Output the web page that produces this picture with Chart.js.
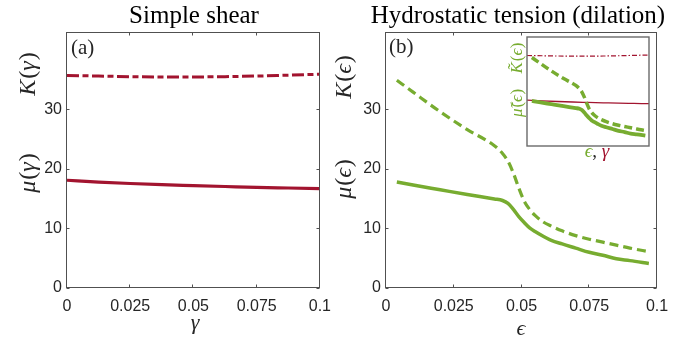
<!DOCTYPE html>
<html>
<head>
<meta charset="utf-8">
<script src="https://cdn.jsdelivr.net/npm/chart.js@4"></script>
<style>
  body { margin:0; background:#fff; width:685px; height:339px; position:relative; overflow:hidden; }
  canvas { position:absolute; }
</style>
</head>
<body>
<canvas id="c1" width="340" height="339" style="left:0;top:0;width:340px;height:339px"></canvas>
<canvas id="c2" width="355" height="339" style="left:330px;top:0;width:355px;height:339px"></canvas>
<canvas id="c3" width="126" height="113" style="left:525px;top:35px;width:126px;height:113px"></canvas>
<script>
// ---- data ----
const xTicks = [0, 0.025, 0.05, 0.075, 0.1];
const xTickLabels = ['0', '0.025', '0.05', '0.075', '0.1'];
const yTicks = [0, 10, 20, 30];
const yTickLabels = ['0', '10', '20', '30'];

// (a) simple shear
const gamma   = [0, 0.0125, 0.025, 0.0375, 0.05, 0.0625, 0.075, 0.0875, 0.1];
const muGamma = [18.1, 17.8, 17.55, 17.35, 17.2, 17.05, 16.9, 16.8, 16.7];
const kGamma  = [35.7, 35.6, 35.5, 35.45, 35.45, 35.5, 35.6, 35.75, 35.9];

// (b) hydrostatic tension
const epsilon = [0.004, 0.01, 0.02, 0.03, 0.04, 0.043, 0.045, 0.047, 0.049, 0.051, 0.053, 0.055, 0.058, 0.061, 0.065, 0.07, 0.075, 0.08, 0.085, 0.09, 0.097];
const muEps   = [17.8, 17.3, 16.5, 15.7, 14.95, 14.7, 14.2, 13.2, 12.0, 11.0, 10.1, 9.5, 8.7, 8.0, 7.4, 6.7, 6.0, 5.5, 4.9, 4.6, 4.1];
const kEps    = [34.9, 32.9, 29.6, 26.6, 23.9, 22.6, 21.3, 19.3, 16.8, 14.6, 13.2, 12.2, 11.1, 10.4, 9.6, 8.8, 8.2, 7.7, 7.2, 6.7, 6.1];

const RED = '#A2142F', GREEN = '#77AC30', AX = '#262626';
const SERIF = '"Liberation Serif", "DejaVu Serif", serif';
const SANS = '"Liberation Sans", Arial, sans-serif';

function pts(xs, ys) { return xs.map((x, i) => ({ x: x, y: ys[i] })); }

// mixed italic/upright text runs
function runs(ctx, cx, cy, rot, parts, size, color, off) {
  ctx.save();
  ctx.translate(cx, cy);
  if (rot) ctx.rotate(-Math.PI / 2);
  ctx.textBaseline = 'alphabetic';
  let w = 0;
  parts.forEach(p => {
    ctx.font = (p.i ? 'italic ' : '') + size + 'px ' + SERIF;
    p.w = ctx.measureText(p.t).width + (p.s || 0); w += p.w;
  });
  let x = -w / 2;
  parts.forEach(p => {
    ctx.font = (p.i ? 'italic ' : '') + size + 'px ' + SERIF;
    ctx.fillStyle = p.c || color;
    ctx.fillText(p.t, x, off);
    x += p.w;
  });
  ctx.restore();
}

const framePlugin = {
  id: 'frameTicks',
  afterDatasetsDraw(chart) {
    const { ctx, chartArea: a } = chart;
    const xs = chart.scales.x, ys = chart.scales.y;
    ctx.save();
    ctx.strokeStyle = '#505050';
    ctx.lineWidth = 1;
    const L = Math.round(a.left) - 0.5, R = Math.round(a.right) - 0.5;
    const T = Math.round(a.top) + 0.5, B = Math.round(a.bottom) - 0.5;
    ctx.strokeRect(L, T, R - L, B - T);
    ctx.beginPath();
    xTicks.forEach(v => {
      const px = Math.round(xs.getPixelForValue(v)) - 0.5;
      ctx.moveTo(px, B); ctx.lineTo(px, B - 3);
      ctx.moveTo(px, T); ctx.lineTo(px, T + 3);
    });
    yTicks.forEach(v => {
      const py = Math.round(ys.getPixelForValue(v)) + 0.5;
      ctx.moveTo(L, py); ctx.lineTo(L + 3, py);
      ctx.moveTo(R, py); ctx.lineTo(R - 3, py);
    });
    ctx.stroke();
    ctx.restore();
  }
};

function mainOptions(yWidth, padRight) {
  return {
    responsive: false, animation: false, devicePixelRatio: 1,
    layout: { padding: { top: 32, right: padRight, left: 0, bottom: 0 } },
    plugins: { legend: { display: false }, tooltip: { enabled: false } },
    elements: { point: { radius: 0 }, line: { cubicInterpolationMode: 'monotone' } },
    scales: {
      x: {
        type: 'linear', min: 0, max: 0.1,
        grid: { display: false, drawTicks: false }, border: { display: false },
        afterBuildTicks: s => { s.ticks = xTicks.map(v => ({ value: v })); },
        afterFit: s => { s.height = 51; },
        ticks: { padding: 9, autoSkip: false, maxRotation: 0, color: AX,
                 font: { family: SANS, size: 16 }, callback: (v, i) => xTickLabels[i] }
      },
      y: {
        type: 'linear', min: 0, max: 43,
        grid: { display: false, drawTicks: false }, border: { display: false },
        afterBuildTicks: s => { s.ticks = yTicks.map(v => ({ value: v })); },
        afterFit: s => { s.width = yWidth; },
        ticks: { padding: 5, autoSkip: false, color: AX,
                 font: { family: SANS, size: 16 }, callback: (v, i) => yTickLabels[i] }
      }
    }
  };
}

// ---- chart (a) ----
new Chart(document.getElementById('c1'), {
  type: 'line',
  data: {
    datasets: [
      { data: pts(gamma, kGamma), borderColor: RED, borderWidth: 3, borderDash: [12, 3.5, 6, 3.5] },
      { data: pts(gamma, muGamma), borderColor: RED, borderWidth: 3.2 }
    ]
  },
  options: mainOptions(67, 17),
  plugins: [framePlugin, {
    id: 'textA',
    afterDraw(chart) {
      const ctx = chart.ctx;
      ctx.save();
      ctx.fillStyle = '#000';
      ctx.font = '25px ' + SERIF; ctx.textAlign = 'center'; ctx.textBaseline = 'alphabetic';
      ctx.fillText('Simple shear', 194, 23);
      ctx.textAlign = 'left'; ctx.font = '21px ' + SERIF;
      ctx.fillStyle = AX;
      ctx.fillText('(a)', 71, 54);
      ctx.restore();
      runs(ctx, 27, 74, true, [{ t: 'K', i: 1, s: 1 }, { t: '(' }, { t: 'γ', i: 1, s: 1 }, { t: ')' }], 24, AX, 7.5);
      runs(ctx, 27, 173, true, [{ t: 'μ', i: 1, s: 1 }, { t: '(' }, { t: 'γ', i: 1, s: 1 }, { t: ')' }], 24, AX, 7.5);
      runs(ctx, 195, 329, false, [{ t: 'γ', i: 1 }], 22, AX, 0);
    }
  }]
});

// ---- chart (b) ----
new Chart(document.getElementById('c2'), {
  type: 'line',
  data: {
    datasets: [
      { data: pts(epsilon, kEps), borderColor: GREEN, borderWidth: 3.2, borderDash: [9, 5] },
      { data: pts(epsilon, muEps), borderColor: GREEN, borderWidth: 3.5 }
    ]
  },
  options: mainOptions(56, 28),
  plugins: [framePlugin, {
    id: 'textB',
    afterDraw(chart) {
      const ctx = chart.ctx;
      const o = 330;
      ctx.save();
      ctx.fillStyle = '#000';
      ctx.font = '25px ' + SERIF; ctx.textAlign = 'center'; ctx.textBaseline = 'alphabetic';
      ctx.fillText('Hydrostatic tension (dilation)', 518 - o, 23);
      ctx.textAlign = 'left'; ctx.font = '21px ' + SERIF;
      ctx.fillStyle = AX;
      ctx.fillText('(b)', 389 - o, 53);
      ctx.restore();
      runs(ctx, 343 - o, 77, true, [{ t: 'K', i: 1, s: 1 }, { t: '(' }, { t: 'ϵ', i: 1, s: 1 }, { t: ')' }], 24, AX, 7.5);
      runs(ctx, 343 - o, 179, true, [{ t: 'μ', i: 1, s: 1 }, { t: '(' }, { t: 'ϵ', i: 1, s: 1 }, { t: ')' }], 24, AX, 7.5);
      runs(ctx, 521 - o, 335, false, [{ t: 'ϵ', i: 1 }], 22, AX, 0);
      // inset labels
      runs(ctx, 516 - o, 58, true, [{ t: 'K̃', i: 1, s: 1 }, { t: '(' }, { t: 'ϵ', i: 1, s: 0.5 }, { t: ')' }], 17, GREEN, 5.5);
      runs(ctx, 516 - o, 103, true, [{ t: 'μ̃', i: 1, s: 1 }, { t: '(' }, { t: 'ϵ', i: 1, s: 0.5 }, { t: ')' }], 17, GREEN, 5.5);
      runs(ctx, 597 - o, 157, false, [{ t: 'ϵ', i: 1, c: GREEN }, { t: ', ', c: AX }, { t: 'γ', i: 1, c: RED }], 19, AX, 0);
    }
  }]
});

// ---- inset ----
new Chart(document.getElementById('c3'), {
  type: 'line',
  data: {
    datasets: [
      { data: pts(epsilon, kEps), borderColor: GREEN, borderWidth: 3.5, borderDash: [8, 4] },
      { data: pts(epsilon, muEps), borderColor: GREEN, borderWidth: 3.8 },
      { data: pts(gamma, kGamma), borderColor: RED, borderWidth: 1.2, borderDash: [5, 2, 1.5, 2] },
      { data: pts(gamma, muGamma), borderColor: RED, borderWidth: 1.3 }
    ]
  },
  options: {
    responsive: false, animation: false, devicePixelRatio: 1,
    layout: { padding: 2 },
    plugins: { legend: { display: false }, tooltip: { enabled: false } },
    elements: { point: { radius: 0 }, line: { cubicInterpolationMode: 'monotone' } },
    scales: {
      x: { type: 'linear', display: false, min: 0, max: 0.1 },
      y: { type: 'linear', display: false, min: 0, max: 43 }
    }
  },
  plugins: [{
    id: 'insetFrame',
    beforeDraw(chart) {
      const { ctx, chartArea: a } = chart;
      ctx.save(); ctx.fillStyle = '#fff';
      ctx.fillRect(a.left, a.top, a.right - a.left, a.bottom - a.top);
      ctx.restore();
    },
    afterDatasetsDraw(chart) {
      const { ctx, chartArea: a } = chart;
      ctx.save(); ctx.strokeStyle = '#6a6a6a'; ctx.lineWidth = 1.4;
      ctx.strokeRect(a.left, a.top, a.right - a.left, a.bottom - a.top);
      ctx.restore();
    }
  }]
});
</script>
</body>
</html>
